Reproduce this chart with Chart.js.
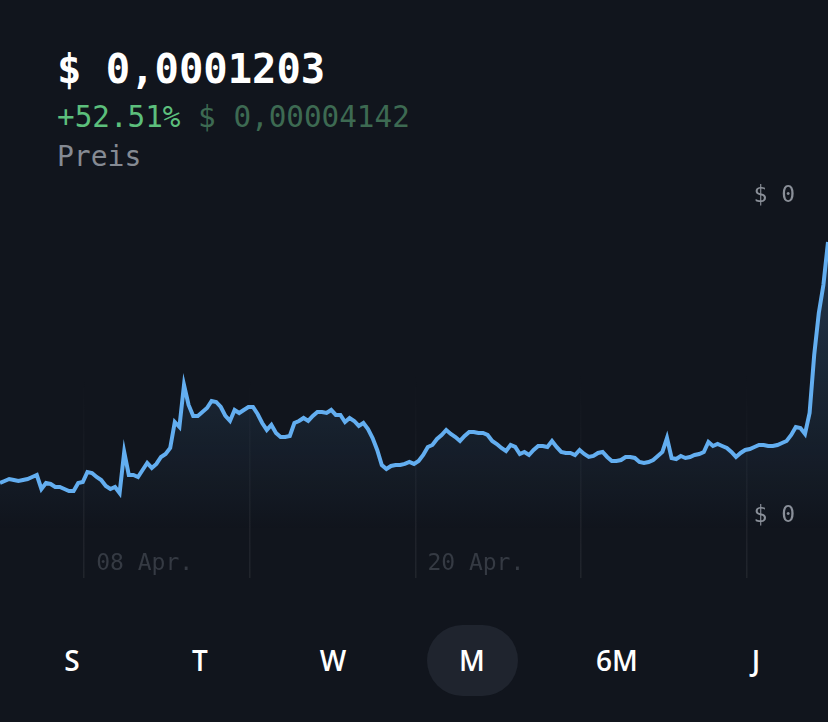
<!DOCTYPE html>
<html>
<head>
<meta charset="utf-8">
<script src="https://cdn.jsdelivr.net/npm/chart.js@4"></script>
<style>
  html, body { margin: 0; padding: 0; }
  body { width: 828px; height: 722px; background: #11151d; position: relative; overflow: hidden; font-family: "DejaVu Sans Mono", monospace; }
  .price { position: absolute; left: 57px; top: 45px; font-size: 40.5px; font-weight: bold; color: #fff; }
  .change { position: absolute; left: 57px; top: 100px; font-size: 29.3px; white-space: pre; }
  .change .pct { color: #5cbf7c; }
  .change .abs { color: #3d6a52; }
  .label { position: absolute; left: 57px; top: 140px; font-size: 28px; color: #858a93; }
  #wrap { position: absolute; left: 0; top: 170px; width: 828px; height: 430px; }
  .nav { position: absolute; top: 641px; font-family: "Open Sans", sans-serif; font-weight: 600; font-size: 28px; color: #fff; transform: translateX(-50%); }
  .pill { position: absolute; left: 427px; top: 625px; width: 91px; height: 71px; border-radius: 36px; background: #1f242e; }
</style>
</head>
<body>
<div class="price">$ 0,0001203</div>
<div class="change"><span class="pct">+52.51%</span> <span class="abs">$ 0,00004142</span></div>
<div class="label">Preis</div>
<div id="wrap"><canvas id="chart"></canvas></div>
<div class="pill"></div>
<div class="nav" style="left:72px">S</div>
<div class="nav" style="left:200px">T</div>
<div class="nav" style="left:333px">W</div>
<div class="nav" style="left:472px">M</div>
<div class="nav" style="left:617px">6M</div>
<div class="nav" style="left:756px">J</div>
<script>
// price every 4 hours, from 4 Apr late evening to 4/5 May
const startDay = 4.95;      // day of April
const stepDay = 1 / 6;

const prices = [
    0.00007888, 0.00007922, 0.00007957, 0.00007940, 0.00007922, 0.00007940, 0.00007957, 0.00007991, 0.00008025, 0.00007785,
    0.00007888, 0.00007871, 0.00007819, 0.00007819, 0.00007785, 0.00007750, 0.00007750, 0.00007888, 0.00007905, 0.00008077,
    0.00008060, 0.00007991, 0.00007940, 0.00007836, 0.00007785, 0.00007819, 0.00007716, 0.00008421, 0.00008025, 0.00008025,
    0.00007991, 0.00008111, 0.00008232, 0.00008146, 0.00008215, 0.00008335, 0.00008386, 0.00008489, 0.00008936, 0.00008850,
    0.00009572, 0.00009229, 0.00009040, 0.00009040, 0.00009108, 0.00009177, 0.00009297, 0.00009280, 0.00009194, 0.00009040,
    0.00008954, 0.00009143, 0.00009091, 0.00009143, 0.00009194, 0.00009194, 0.00009074, 0.00008919, 0.00008799, 0.00008885,
    0.00008747, 0.00008678, 0.00008678, 0.00008696, 0.00008919, 0.00008954, 0.00009005, 0.00008954, 0.00009040, 0.00009108,
    0.00009108, 0.00009091, 0.00009143, 0.00009057, 0.00009057, 0.00008936, 0.00009005, 0.00008954, 0.00008868, 0.00008919,
    0.00008816, 0.00008661, 0.00008455, 0.00008197, 0.00008129, 0.00008180, 0.00008197, 0.00008197, 0.00008215, 0.00008249,
    0.00008215, 0.00008266, 0.00008369, 0.00008507, 0.00008541, 0.00008644, 0.00008713, 0.00008799, 0.00008730, 0.00008678,
    0.00008610, 0.00008696, 0.00008764, 0.00008764, 0.00008747, 0.00008747, 0.00008713, 0.00008610, 0.00008558, 0.00008489,
    0.00008438, 0.00008541, 0.00008507, 0.00008386, 0.00008421, 0.00008369, 0.00008455, 0.00008524, 0.00008524, 0.00008507,
    0.00008610, 0.00008507, 0.00008421, 0.00008404, 0.00008404, 0.00008369, 0.00008455, 0.00008386, 0.00008335, 0.00008352,
    0.00008404, 0.00008421, 0.00008335, 0.00008266, 0.00008266, 0.00008283, 0.00008335, 0.00008335, 0.00008318, 0.00008249,
    0.00008232, 0.00008249, 0.00008283, 0.00008352, 0.00008421, 0.00008661, 0.00008318, 0.00008300, 0.00008352, 0.00008318,
    0.00008335, 0.00008369, 0.00008386, 0.00008421, 0.00008593, 0.00008524, 0.00008558, 0.00008524, 0.00008489, 0.00008421,
    0.00008335, 0.00008404, 0.00008455, 0.00008472, 0.00008507, 0.00008541, 0.00008541, 0.00008524, 0.00008524, 0.00008541,
    0.00008575, 0.00008610, 0.00008713, 0.00008850, 0.00008833, 0.00008730, 0.00009091, 0.00010088, 0.00010810, 0.00011291,
    0.00012030
];

const gridDays = [8, 14, 20, 26, 32];
const gridLabels = ['08 Apr.', '', '20 Apr.', '', ''];
const yTicks = [0.0000732, 0.0001282];
const yMin = 0.00006255;
const yMax = 0.00013267;

const points = prices.map((p, i) => ({ x: startDay + i * stepDay, y: p }));

const ctx = document.querySelector('#chart').getContext('2d');

new Chart(ctx, {
    type: 'line',
    data: {
        datasets: [
            {
                label: 'Preis',
                data: points,
                borderColor: '#63aef0',
                borderWidth: 4,
                pointRadius: 0,
                tension: 0,
                fill: 'start',
                backgroundColor: (c) => {
                    const area = c.chart.chartArea;
                    if (!area) return 'rgba(0,0,0,0)';
                    const g = c.chart.ctx.createLinearGradient(0, area.top + 40, 0, area.top + 360);
                    g.addColorStop(0, 'rgba(95,168,234,0.26)');
                    g.addColorStop(1, 'rgba(95,168,234,0)');
                    return g;
                }
            }
        ]
    },
    options: {
        responsive: true,
        maintainAspectRatio: false,
        animation: false,
        layout: { padding: 0 },
        plugins: { legend: { display: false }, tooltip: { enabled: false } },
        scales: {
            x: {
                type: 'linear',
                min: points[0].x,
                max: points[points.length - 1].x,
                afterBuildTicks: (scale) => { scale.ticks = gridDays.map(v => ({ value: v })); },
                afterFit: (scale) => { scale.height = 22; },
                border: { display: false },
                grid: {
                    drawTicks: false,
                    lineWidth: 1.5,
                    // grid lines fade in towards the bottom
                    color: (c) => {
                        const area = c.chart.chartArea;
                        if (!area) return 'rgba(0,0,0,0)';
                        const g = c.chart.ctx.createLinearGradient(0, area.top + 200, 0, area.bottom);
                        g.addColorStop(0, 'rgba(255,255,255,0)');
                        g.addColorStop(1, 'rgba(255,255,255,0.07)');
                        return g;
                    }
                },
                ticks: {
                    autoSkip: false,
                    maxRotation: 0,
                    mirror: true,
                    align: 'start',
                    labelOffset: 12,
                    padding: 0,
                    color: '#353a43',
                    font: { family: 'DejaVu Sans Mono', size: 23 },
                    callback: (v, i) => gridLabels[i]
                }
            },
            y: {
                position: 'right',
                min: yMin,
                max: yMax,
                afterBuildTicks: (scale) => { scale.ticks = yTicks.map(v => ({ value: v })); },
                afterFit: (scale) => { scale.width = 0; },
                border: { display: false },
                grid: { display: false, drawTicks: false },
                ticks: {
                    mirror: true,
                    padding: -33,
                    color: '#8a8f98',
                    font: { family: 'DejaVu Sans Mono', size: 23 },
                    callback: (v) => '$ ' + Math.round(v)
                }
            }
        }
    }
});
</script>
</body>
</html>
